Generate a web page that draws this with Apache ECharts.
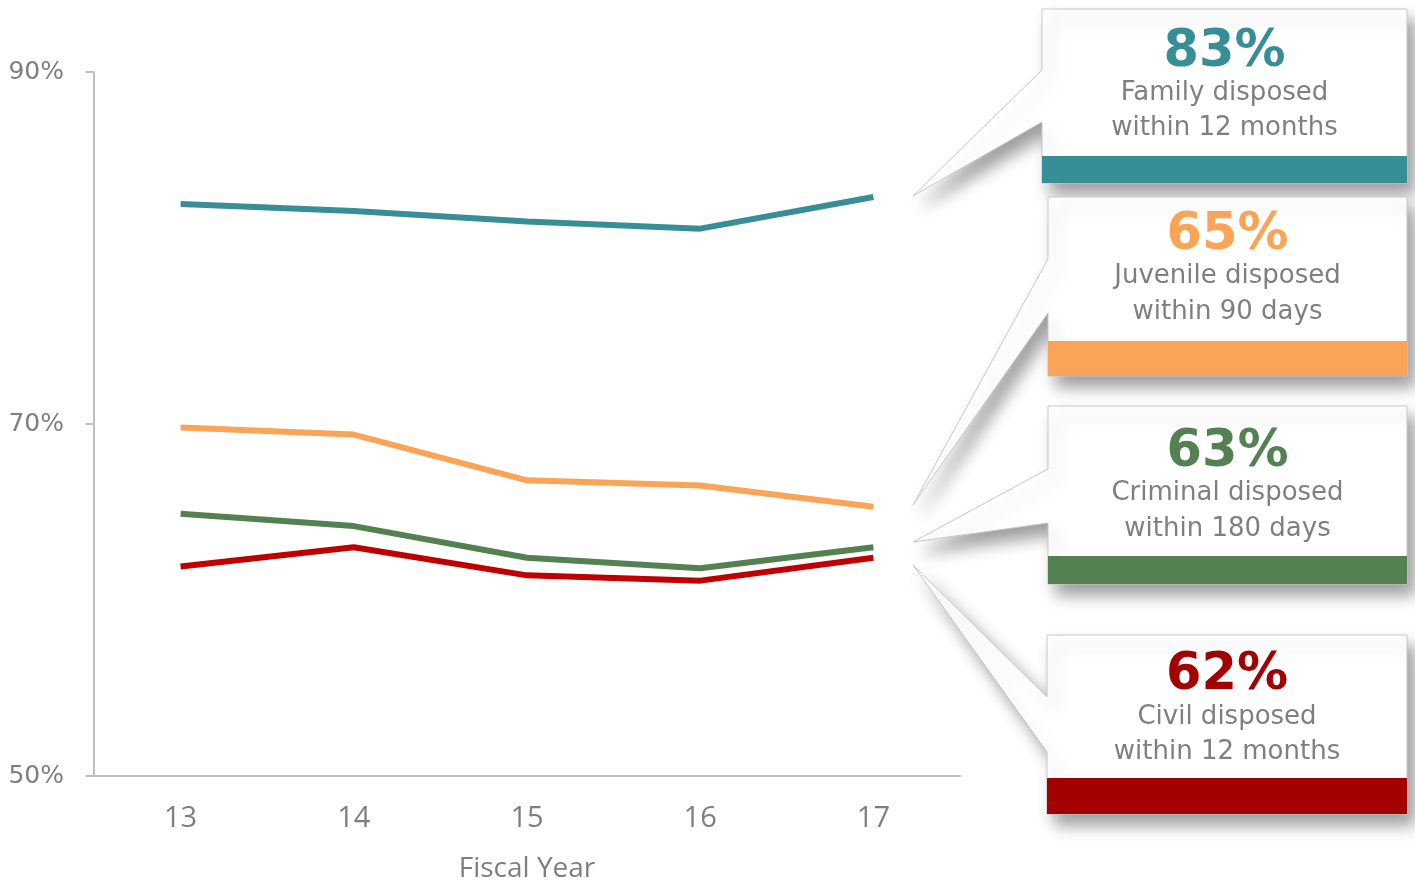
<!DOCTYPE html>
<html>
<head>
<meta charset="utf-8">
<script src="https://cdn.jsdelivr.net/npm/echarts@6/dist/echarts.min.js"></script>
<style>
html,body{margin:0;padding:0;background:#fff;}
#chart{width:1415px;height:880px;}
</style>
</head>
<body>
<div id="chart"></div>
<script>
// ---- data ----
const years = ['13', '14', '15', '16', '17'];
const family = [82.5, 82.1, 81.5, 81.1, 82.9];
const juvenile = [69.8, 69.4, 66.8, 66.5, 65.3];
const criminal = [64.9, 64.2, 62.4, 61.8, 63.0];
const civil = [61.9, 63.0, 61.4, 61.1, 62.4];
const seriesNames = ['Family', 'Juvenile', 'Criminal', 'Civil'];
const calloutLine1 = ['Family disposed', 'Juvenile disposed', 'Criminal disposed', 'Civil disposed'];
const calloutLine2 = ['within 12 months', 'within 90 days', 'within 180 days', 'within 12 months'];
const yTicks = [50, 70, 90];

// ---- styles ----
const lineColors = ['#388E96', '#F9A456', '#548151', '#C00000'];
const barColors = ['#388E96', '#F9A456', '#548151', '#A30000'];
const allSeries = [family, juvenile, criminal, civil];

// callout layout (pixels)
const boxes = [
  {x0: 1042, y0: 9,   x1: 1407, y1: 183, pa: 70,  pb: 122, tip: [913, 196], bar: 156, pct: 53,  l1: 93,  l2: 128},
  {x0: 1048, y0: 197, x1: 1407, y1: 376, pa: 259, pb: 313, tip: [913, 505], bar: 341, pct: 236, l1: 276, l2: 312},
  {x0: 1048, y0: 406, x1: 1407, y1: 584, pa: 469, pb: 523, tip: [913, 542], bar: 556, pct: 453, l1: 493, l2: 529},
  {x0: 1047, y0: 635, x1: 1407, y1: 814, pa: 697, pb: 752, tip: [913, 565], bar: 778, pct: 676, l1: 717, l2: 752}
];

const graphics = [];
boxes.forEach((b, i) => {
  const last = allSeries[i][allSeries[i].length - 1];
  const cx = (b.x0 + b.x1) / 2;
  graphics.push({
    type: 'polygon',
    shape: {points: [[b.x0, b.y0], [b.x1, b.y0], [b.x1, b.y1], [b.x0, b.y1], [b.x0, b.pb], b.tip, [b.x0, b.pa]]},
    style: {fill: '#fff', stroke: '#C8C8C8', lineWidth: 1,
      shadowBlur: 16, shadowOffsetX: 8, shadowOffsetY: 11, shadowColor: 'rgba(0,0,0,0.38)'},
    z: 10
  });
  graphics.push({
    type: 'rect',
    shape: {x: b.x0, y: b.bar, width: b.x1 - b.x0, height: b.y1 - b.bar},
    style: {fill: barColors[i]},
    z: 11
  });
  graphics.push({
    type: 'text', x: cx, y: b.pct, z: 12,
    style: {text: Math.round(last) + '%', fill: barColors[i], font: 'bold 51px "DejaVu Sans"',
      align: 'center', verticalAlign: 'middle'}
  });
  graphics.push({
    type: 'text', x: cx, y: b.l1, z: 12,
    style: {text: calloutLine1[i], fill: '#7F7F7F', font: '26px "DejaVu Sans"',
      align: 'center', verticalAlign: 'middle'}
  });
  graphics.push({
    type: 'text', x: cx, y: b.l2, z: 12,
    style: {text: calloutLine2[i], fill: '#7F7F7F', font: '26px "DejaVu Sans"',
      align: 'center', verticalAlign: 'middle'}
  });
});

const chart = echarts.init(document.getElementById('chart'));
chart.setOption({
  animation: false,
  backgroundColor: '#fff',
  grid: {left: 94, right: 455, top: 72, bottom: 104, containLabel: false, outerBoundsMode: 'none'},
  xAxis: {
    type: 'category',
    data: years,
    boundaryGap: true,
    axisLine: {lineStyle: {color: '#BFBFBF', width: 2}},
    axisTick: {show: false},
    axisLabel: {color: '#7F7F7F', fontSize: 29, fontFamily: 'Open Sans', margin: 28},
    name: 'Fiscal Year',
    nameLocation: 'middle',
    nameGap: 79,
    nameTextStyle: {color: '#7F7F7F', fontSize: 28, fontFamily: 'Open Sans'}
  },
  yAxis: {
    type: 'value',
    min: yTicks[0],
    max: yTicks[yTicks.length - 1],
    interval: yTicks[1] - yTicks[0],
    axisLine: {show: true, lineStyle: {color: '#BFBFBF', width: 2}},
    axisTick: {show: true, length: 8, lineStyle: {color: '#BFBFBF', width: 2}},
    splitLine: {show: false},
    axisLabel: {color: '#7F7F7F', fontSize: 25, fontFamily: 'DejaVu Sans', margin: 30,
      formatter: v => v + '%'}
  },
  series: allSeries.map((d, i) => ({
    name: seriesNames[i],
    type: 'line',
    data: d,
    symbol: 'none',
    smooth: false,
    lineStyle: {color: lineColors[i], width: 6},
    z: 3
  })),
  graphic: graphics
});
</script>
</body>
</html>
